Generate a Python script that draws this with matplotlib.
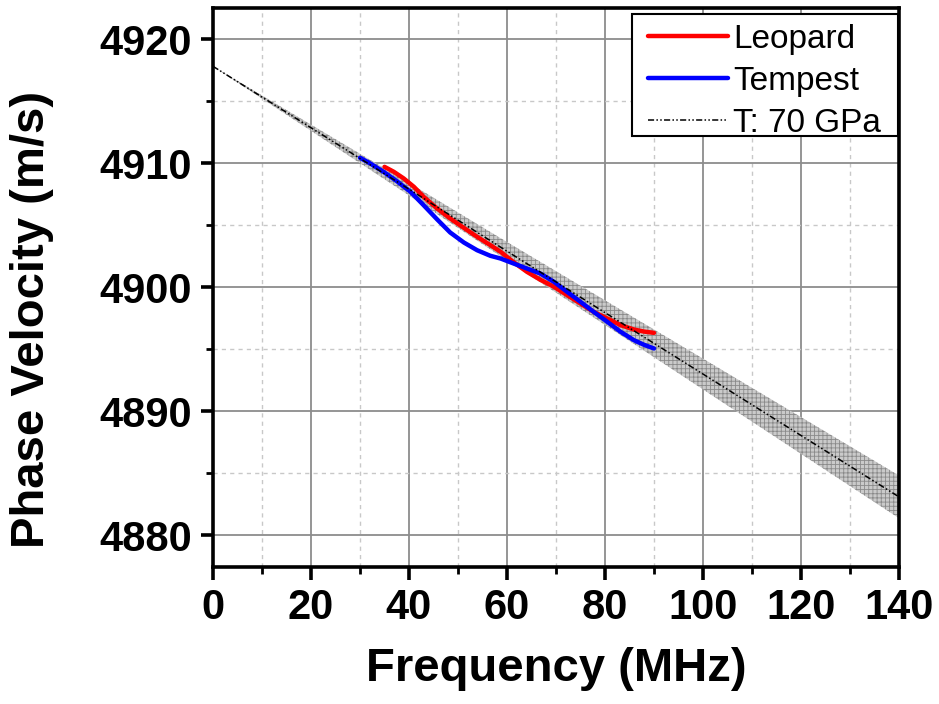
import matplotlib
matplotlib.use("Agg")
import matplotlib.pyplot as plt
from matplotlib.ticker import MultipleLocator
from matplotlib.patches import Rectangle
import numpy as np

plt.rcParams['font.family'] = ['Liberation Sans', 'DejaVu Sans']
plt.rcParams['hatch.linewidth'] = 0.6

# Theory (T: 70 GPa) line and uncertainty band
theory_f = [0, 20, 40, 60, 80, 100, 120, 140]
theory_v = [4917.8, 4912.85, 4907.9, 4902.9, 4897.95, 4893.0, 4888.05, 4883.1]
band_half = [0.0, 0.25, 0.5, 0.74, 0.99, 1.24, 1.48, 1.72]

# Leopard (red)
leopard_f = [35.0, 36.9, 38.9, 41.0, 43.0, 45.7, 48.4, 51.2, 53.9, 56.6, 58.7, 61.4,
             64.1, 66.8, 69.6, 72.3, 75.0, 77.7, 80.5, 83.2, 85.9, 88.0, 90.0]
leopard_v = [4909.7, 4909.3, 4908.77, 4908.09, 4907.28, 4906.35, 4905.54, 4904.78,
             4904.06, 4903.39, 4902.85, 4902.0, 4901.23, 4900.6, 4900.03, 4899.35,
             4898.68, 4898.01, 4897.47, 4896.94, 4896.59, 4896.42, 4896.32]

# Tempest (blue)
tempest_f = [30.0, 32.1, 34.8, 37.5, 40.3, 43.0, 45.7, 48.4, 51.2, 53.9, 56.6, 58.7,
             61.4, 64.1, 66.8, 69.6, 72.3, 75.0, 77.7, 80.5, 83.2, 85.9, 88.0, 90.0]
tempest_v = [4910.43, 4909.97, 4909.3, 4908.55, 4907.69, 4906.6, 4905.48, 4904.41,
             4903.6, 4902.98, 4902.53, 4902.31, 4901.9, 4901.5, 4901.1, 4900.43,
             4899.62, 4898.82, 4898.01, 4897.2, 4896.4, 4895.73, 4895.35, 4895.06]

x_ticks = [0, 20, 40, 60, 80, 100, 120, 140]
y_ticks = [4880, 4890, 4900, 4910, 4920]

fig = plt.figure(figsize=(9.39, 7.04), dpi=100)
ax = fig.add_axes([213/939, 1 - 567/704, (899-213)/939, (567-8)/704])

tf = np.array(theory_f)
tv = np.array(theory_v)
bh = np.array(band_half)
ax.fill_between(tf, tv - bh, tv + bh, facecolor='#cacaca', edgecolor='#8a8a8a',
                hatch='++++', linewidth=0, zorder=2)
ax.plot(tf, tv, color='black', linestyle=(0, (4, 1.5, 1, 1.5, 1, 1.5)), lw=1.1,
        label='T: 70 GPa', zorder=4)
ax.plot(leopard_f, leopard_v, color='#ff0000', lw=3.2, label='Leopard', zorder=3,
        solid_capstyle='round', solid_joinstyle='round')
ax.plot(tempest_f, tempest_v, color='#0000ff', lw=3.2, label='Tempest', zorder=3,
        solid_capstyle='round', solid_joinstyle='round')

ax.set_xlim(0, 140)
ax.set_ylim(4877.45, 4922.5)
ax.set_xticks(x_ticks)
ax.set_yticks(y_ticks)
ax.xaxis.set_minor_locator(MultipleLocator(10))
ax.yaxis.set_minor_locator(MultipleLocator(5))

ax.grid(True, which='major', color='#8c8c8c', lw=1.3, zorder=0)
ax.grid(True, which='minor', color='#c8c8c8', lw=1.0, linestyle=(0, (3, 3)), zorder=0)
ax.set_axisbelow(True)

for s in ax.spines.values():
    s.set_linewidth(2.6)

ax.tick_params(which='major', direction='out', length=9, width=2.6, labelsize=30, pad=6)
ax.tick_params(which='minor', direction='out', length=5, width=2.0)
for lab in ax.get_xticklabels() + ax.get_yticklabels():
    lab.set_fontweight('bold')

ax.set_xlabel('Frequency (MHz)', fontsize=34, fontweight='bold', labelpad=14)
ax.set_ylabel('Phase Velocity (m/s)', fontsize=34, fontweight='bold')
ax.yaxis.set_label_coords(-0.232, 0.442)

# legend frame
frame = Rectangle((0.6108, 0.771), 0.9985 - 0.6108, 0.9893 - 0.771,
                  transform=ax.transAxes, facecolor='white', edgecolor='black',
                  lw=1.5, zorder=9)
ax.add_patch(frame)

handles, labels = ax.get_legend_handles_labels()
order = [1, 2, 0]
leg = ax.legend([handles[i] for i in order], [labels[i] for i in order],
                loc='upper left', fontsize=24, frameon=False,
                borderpad=0.0, handlelength=2.4,
                labelspacing=0.33, handletextpad=0.15, borderaxespad=0.0,
                bbox_to_anchor=((648 - 213) / 686, (567 - 24) / 559))
leg.set_zorder(10)

fig.savefig('out.png', dpi=100)
